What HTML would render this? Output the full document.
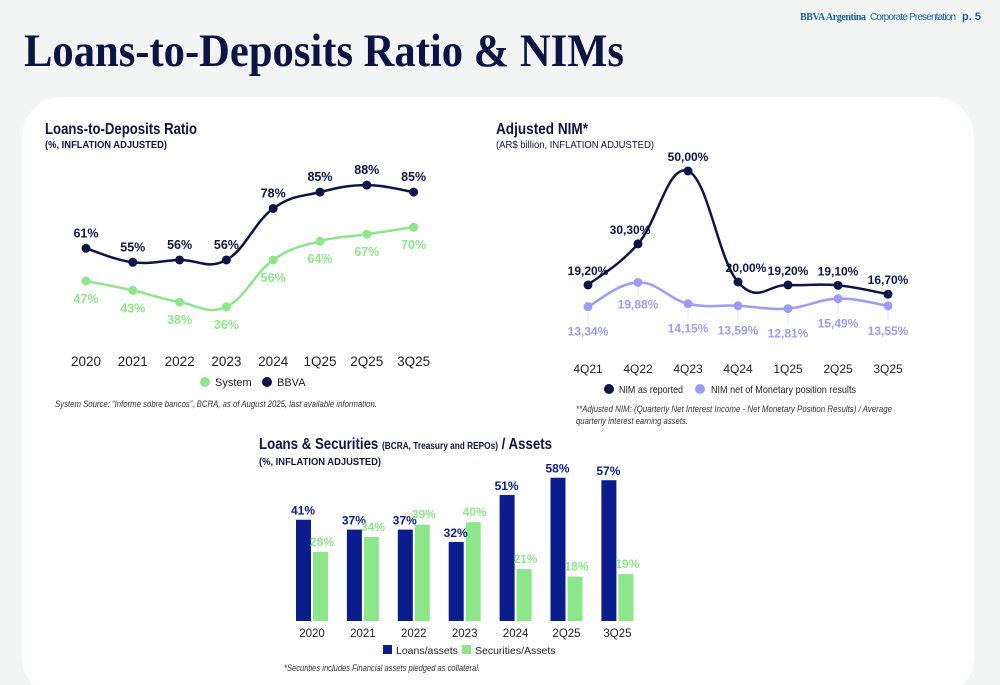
<!DOCTYPE html>
<html><head><meta charset="utf-8">
<style>
html,body{margin:0;padding:0;background:#f3f5f5;}
svg{display:block;font-family:"Liberation Sans",sans-serif;}
</style></head>
<body>
<svg id="page" width="1000" height="685" viewBox="0 0 1000 685" xmlns="http://www.w3.org/2000/svg">
<rect x="0" y="0" width="1000" height="685" fill="#f3f5f5"/>
<text x="800" y="20" font-family="Liberation Serif,serif" font-weight="bold" font-size="10" fill="#1f5fa0" textLength="66">BBVA Argentina</text>
<text x="870" y="20" font-size="10" fill="#1f5fa0" textLength="86">Corporate Presentation</text>
<text x="962" y="20" font-weight="bold" font-size="11" fill="#1f5fa0">p. 5</text>
<text x="24" y="66" font-family="Liberation Serif,serif" font-weight="bold" font-size="47" fill="#0b1445" textLength="600" lengthAdjust="spacingAndGlyphs">Loans-to-Deposits Ratio &amp; NIMs</text>
<rect x="22" y="97" width="952" height="600" rx="40" fill="#ffffff"/>

<text x="45" y="134" font-size="16" font-weight="bold" fill="#0b1445" textLength="152" lengthAdjust="spacingAndGlyphs">Loans-to-Deposits Ratio</text>
<text x="45" y="148" font-size="10" font-weight="bold" fill="#0b1445" textLength="122" lengthAdjust="spacingAndGlyphs">(%, INFLATION ADJUSTED)</text>
<g id="ltd"></g>
<text x="55" y="407" font-size="9" font-style="italic" fill="#333" textLength="322" lengthAdjust="spacingAndGlyphs">System Source: “Informe sobre bancos”, BCRA, as of  August 2025, last available information.</text>

<text x="496" y="134" font-size="16" font-weight="bold" fill="#0b1445" textLength="92" lengthAdjust="spacingAndGlyphs">Adjusted NIM*</text>
<text x="496" y="148" font-size="10" fill="#0b1445" textLength="158" lengthAdjust="spacingAndGlyphs">(AR$ billion, INFLATION ADJUSTED)</text>
<g id="nim"></g>
<text x="576" y="412" font-size="9" font-style="italic" fill="#333" textLength="316" lengthAdjust="spacingAndGlyphs">**Adjusted NIM:  (Quarterly Net Interest Income - Net Monetary Position Results) / Average</text>
<text x="576" y="424" font-size="9" font-style="italic" fill="#333" textLength="112" lengthAdjust="spacingAndGlyphs">quarterly interest earning assets.</text>

<text x="259" y="449" fill="#0b1445" font-weight="bold" textLength="293" lengthAdjust="spacingAndGlyphs"><tspan font-size="16">Loans &amp; Securities </tspan><tspan font-size="10">(BCRA, Treasury and REPOs)</tspan><tspan font-size="16"> / Assets</tspan></text>
<text x="259" y="465" font-size="10" font-weight="bold" fill="#0b1445" textLength="122" lengthAdjust="spacingAndGlyphs">(%, INFLATION ADJUSTED)</text>
<g id="ls"></g>
<text x="284" y="671" font-size="9" font-style="italic" fill="#333" textLength="196" lengthAdjust="spacingAndGlyphs">*Securities includes Financial assets pledged as collateral.</text>
</svg>
<script>
const NS='http://www.w3.org/2000/svg';
function mk(parent,tag,attrs,txt){const e=document.createElementNS(NS,tag);for(const k in attrs)e.setAttribute(k,attrs[k]);if(txt!==undefined)e.textContent=txt;parent.appendChild(e);return e;}
function smooth(pts){let d='M'+pts[0][0]+','+pts[0][1];for(let i=0;i<pts.length-1;i++){const p0=pts[i-1]||pts[i],p1=pts[i],p2=pts[i+1],p3=pts[i+2]||p2;const t=0.2;d+=' C'+(p1[0]+(p2[0]-p0[0])*t)+','+(p1[1]+(p2[1]-p0[1])*t)+' '+(p2[0]-(p3[0]-p1[0])*t)+','+(p2[1]-(p3[1]-p1[1])*t)+' '+p2[0]+','+p2[1];}return d;}

// Loans-to-deposits
const ltdCategories=['2020','2021','2022','2023','2024','1Q25','2Q25','3Q25'];
const ltdBBVA=[61,55,56,56,78,85,88,85];
const ltdSystem=[47,43,38,36,56,64,67,70];
// NIM
const nimCategories=['4Q21','4Q22','4Q23','4Q24','1Q25','2Q25','3Q25'];
const nimReported=[19.2,30.3,50.0,20.0,19.2,19.1,16.7];
const nimNet=[13.34,19.88,14.15,13.59,12.81,15.49,13.55];
// Loans & securities
const lsCategories=['2020','2021','2022','2023','2024','2Q25','3Q25'];
const lsLoans=[41,37,37,32,51,58,57];
const lsSecurities=[28,34,39,40,21,18,19];

const NAVY='#0d1547',GREEN='#8ee68a',LAV='#9c9cf5',BLUE='#0b1c8c';
function fmt(v){return v.toFixed(2).replace('.',',')+'%';}

(function(){
 const g=document.getElementById('ltd');
 const x=i=>86+i*46.8, y=v=>391-v*2.34;
 ltdCategories.forEach((c,i)=>{const t=mk(g,'text',{x:x(i),y:366,'text-anchor':'middle','font-size':13.5,fill:'#222'},c);
 
 });
 const ps=mk(g,'path',{d:smooth(ltdSystem.map((v,i)=>[x(i),y(v)])),fill:'none',stroke:GREEN,'stroke-width':2.5});
 
 
 const pb=mk(g,'path',{d:smooth(ltdBBVA.map((v,i)=>[x(i),y(v)])),fill:'none',stroke:NAVY,'stroke-width':2.5});
 
 
 ltdSystem.forEach((v,i)=>{const c=mk(g,'circle',{cx:x(i),cy:y(v),r:4.5,fill:GREEN});
 
 
 const t=mk(g,'text',{x:x(i),y:y(v)+22,'text-anchor':'middle','font-size':12.5,'font-weight':'bold',fill:GREEN},v+'%');
 
 });
 ltdBBVA.forEach((v,i)=>{const c=mk(g,'circle',{cx:x(i),cy:y(v),r:4.5,fill:NAVY});
 
 
 const t=mk(g,'text',{x:x(i),y:y(v)-11,'text-anchor':'middle','font-size':12.5,'font-weight':'bold',fill:NAVY},v+'%');
 
 });
 const l1=mk(g,'circle',{cx:205,cy:382,r:5,fill:GREEN});
 
 
 const l2=mk(g,'text',{x:215,y:386,'font-size':11,fill:'#222'},'System');
 
 
 const l3=mk(g,'circle',{cx:267,cy:382,r:5,fill:NAVY});
 
 
 const l4=mk(g,'text',{x:277,y:386,'font-size':11,fill:'#222'},'BBVA');
 
 
})();

(function(){
 const g=document.getElementById('nim');
 const x=i=>588+i*50, y=v=>356-v*3.7;
 nimCategories.forEach((c,i)=>{const t=mk(g,'text',{x:x(i),y:373,'text-anchor':'middle','font-size':12,fill:'#222'},c);
 
 });
 nimNet.forEach((v,i)=>{const l=mk(g,'line',{x1:x(i),x2:x(i),y1:y(v),y2:y(v)+15,stroke:'#e6e6f4','stroke-width':1});
 
 });
 const pn=mk(g,'path',{d:smooth(nimNet.map((v,i)=>[x(i),y(v)])),fill:'none',stroke:LAV,'stroke-width':2.5});
 
 
 const pr=mk(g,'path',{d:smooth(nimReported.map((v,i)=>[x(i),y(v)])),fill:'none',stroke:NAVY,'stroke-width':2.5});
 
 
 nimNet.forEach((v,i)=>{const c=mk(g,'circle',{cx:x(i),cy:y(v),r:4.5,fill:LAV});
 
 
 const t=mk(g,'text',{x:x(i),y:i===1?y(v)+26:y(v)+29,'text-anchor':'middle','font-size':12,'font-weight':'bold',fill:LAV},fmt(v));
 
 });
 nimReported.forEach((v,i)=>{const c=mk(g,'circle',{cx:x(i),cy:y(v),r:4.5,fill:NAVY});
 
 
 const dx=i===3?8:(i===1?-8:0);
 const t=mk(g,'text',{x:x(i)+dx,y:y(v)-10,'text-anchor':'middle','font-size':12,'font-weight':'bold',fill:NAVY},fmt(v));
 
 });
 const a=mk(g,'circle',{cx:609,cy:389,r:5,fill:NAVY});
 
 
 const b=mk(g,'text',{x:619,y:393,'font-size':10.5,fill:'#222',textLength:64,lengthAdjust:'spacingAndGlyphs'},'NIM as reported');
 
 
 const c=mk(g,'circle',{cx:700,cy:389,r:5,fill:LAV});
 
 
 const d=mk(g,'text',{x:711,y:393,'font-size':10.5,fill:'#222',textLength:145,lengthAdjust:'spacingAndGlyphs'},'NIM net of Monetary position results');
 
 
})();

(function(){
 const g=document.getElementById('ls');
 const base=621,k=2.47,cx=i=>312+i*50.9,w=15;
 lsCategories.forEach((c,i)=>{
  const hl=lsLoans[i]*k, hs=lsSecurities[i]*k;
  const r1=mk(g,'rect',{x:cx(i)-w-1,y:base-hl,width:w,height:hl,fill:BLUE});
  
  
  const r2=mk(g,'rect',{x:cx(i)+1,y:base-hs,width:w,height:hs,fill:GREEN});
  
  
  const t1=mk(g,'text',{x:cx(i)-9,y:base-hl-5,'text-anchor':'middle','font-size':12,'font-weight':'bold',fill:BLUE},lsLoans[i]+'%');
  
  
  const t2=mk(g,'text',{x:cx(i)+10,y:base-hs-6,'text-anchor':'middle','font-size':12,'font-weight':'bold',fill:GREEN},lsSecurities[i]+'%');
  
  
  const t3=mk(g,'text',{x:cx(i),y:637,'text-anchor':'middle','font-size':11.5,fill:'#222'},c);
  
  
 });
 const a=mk(g,'rect',{x:383,y:645,width:9,height:9,fill:BLUE});
 
 
 const b=mk(g,'text',{x:396,y:654,'font-size':10.5,fill:'#222'},'Loans/assets');
 
 
 const c=mk(g,'rect',{x:462,y:645,width:9,height:9,fill:GREEN});
 
 
 const d=mk(g,'text',{x:475,y:654,'font-size':10.5,fill:'#222'},'Securities/Assets');
 
 
})();
</script>
</body></html>
